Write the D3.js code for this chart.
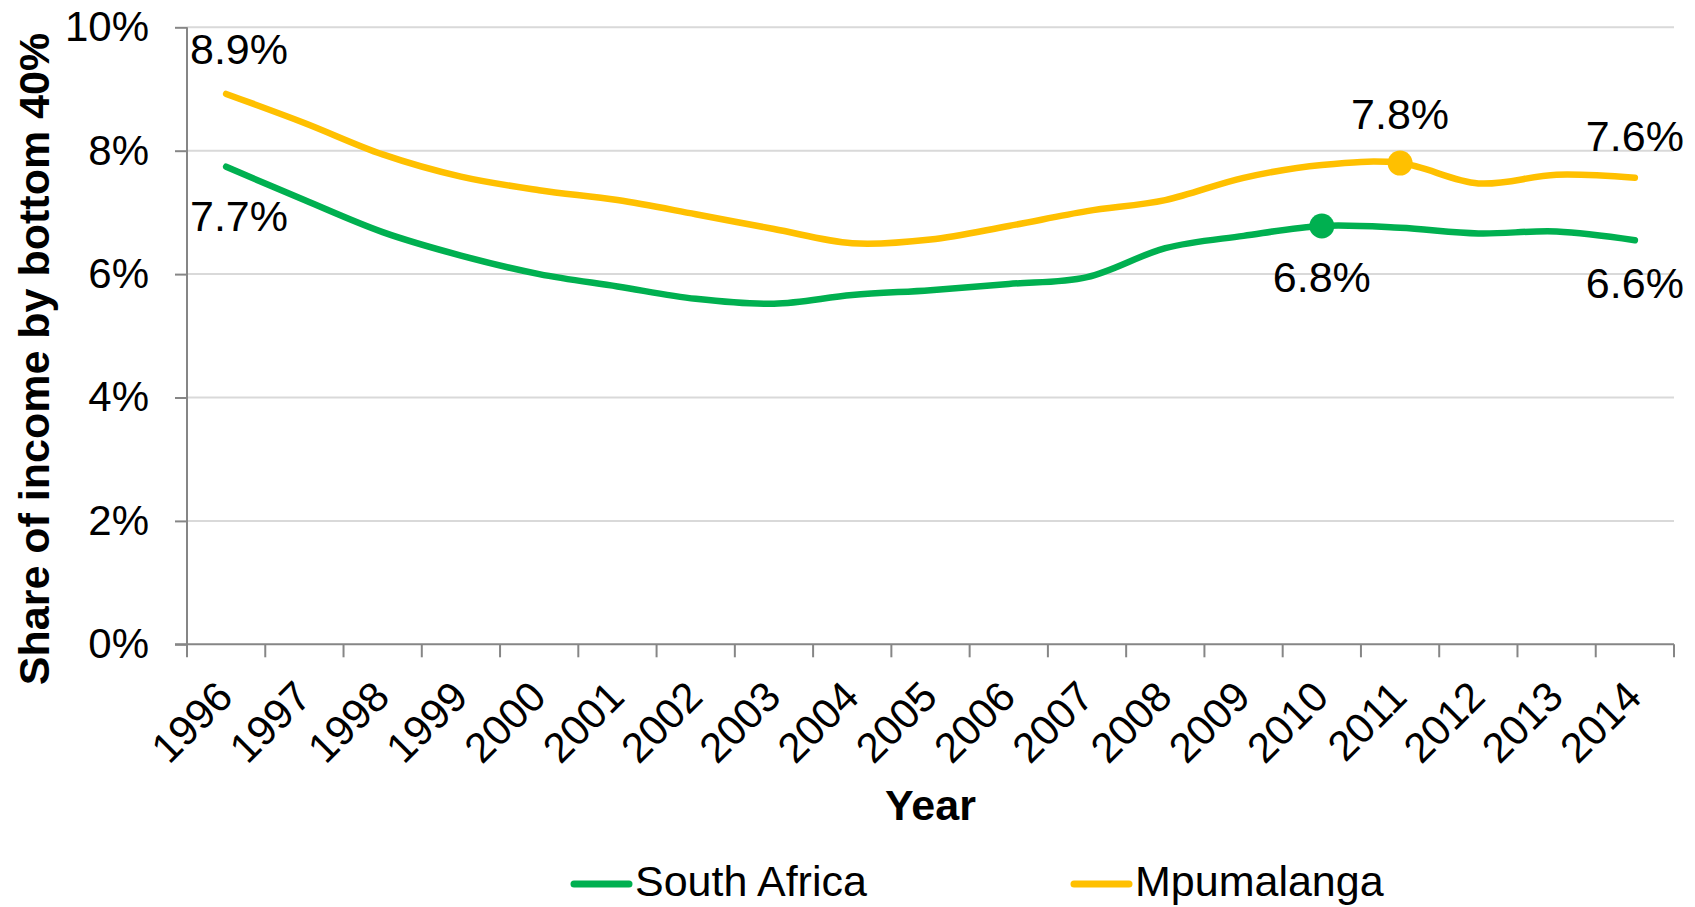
<!DOCTYPE html>
<html><head><meta charset="utf-8">
<script src="https://cdnjs.cloudflare.com/ajax/libs/d3/7.8.5/d3.min.js"></script>
<style>
html,body{margin:0;padding:0;background:#fff;}
text{font-family:"Liberation Sans",Arial,sans-serif;fill:#000;}
</style></head>
<body>
<svg id="chart" width="1695" height="907"></svg>
<script>
const years = ["1996","1997","1998","1999","2000","2001","2002","2003","2004","2005","2006","2007","2008","2009","2010","2011","2012","2013","2014"];
const southAfrica = [7.74,7.2,6.68,6.3,6.0,5.8,5.6,5.52,5.66,5.74,5.84,5.95,6.42,6.62,6.78,6.75,6.66,6.69,6.55];
const mpumalanga = [8.92,8.45,7.94,7.58,7.36,7.2,6.97,6.73,6.5,6.56,6.78,7.02,7.2,7.56,7.77,7.8,7.47,7.61,7.56];
const yTicks = [0,2,4,6,8,10];
const seriesNames = ["South Africa","Mpumalanga"];
const colors = ["#00B050","#FFC000"];
// labels: [series index, year, text, position]
const dataLabels = [
  [1,"1996","8.9%","aboveLeft"],
  [0,"1996","7.7%","belowLeft"],
  [1,"2011","7.8%","above"],
  [0,"2010","6.8%","below"],
  [1,"2014","7.6%","above"],
  [0,"2014","6.6%","below"]
];
const markers = [[0,"2010"],[1,"2011"]];

const svg = d3.select("#chart");
const L = 187, R = 1674, T = 27.3, B = 644.3;
const x = d3.scaleBand().domain(years).range([L,R]);
const y = d3.scaleLinear().domain([0,10]).range([B,T]);
const cx = d => x(d) + x.bandwidth()/2;
const FS = 43, FT = 42;

// gridlines
svg.append("g").selectAll("line").data(yTicks.filter(v=>v>0)).join("line")
  .attr("x1",L).attr("x2",R).attr("y1",d=>y(d)).attr("y2",d=>y(d))
  .attr("stroke","#d9d9d9").attr("stroke-width",2);

// y axis
const yAxis = svg.append("g").attr("transform",`translate(${L},0)`)
  .call(d3.axisLeft(y).tickValues(yTicks).tickFormat(d=>d+"%").tickSize(12).tickPadding(26));
yAxis.select(".domain").attr("stroke","#868686").attr("stroke-width",2).attr("d",`M-0,${B}V${T}`);
yAxis.selectAll(".tick line").attr("stroke","#868686").attr("stroke-width",2);
yAxis.selectAll(".tick text").attr("font-size",FT).attr("font-family","Liberation Sans, Arial, sans-serif").attr("fill","#000");

// x axis
const xAxis = svg.append("g").attr("transform",`translate(0,${B})`)
  .call(d3.axisBottom(x).tickSize(0).tickFormat(""));
xAxis.select(".domain").attr("stroke","#868686").attr("stroke-width",2).attr("d",`M${L-12},0H${R}`);
xAxis.selectAll(".tick").remove();
const bounds = years.map(d=>x(d)).concat([R]);
xAxis.selectAll("line.tk").data(bounds).join("line").attr("class","tk")
  .attr("x1",d=>d).attr("x2",d=>d).attr("y1",0).attr("y2",13)
  .attr("stroke","#868686").attr("stroke-width",2);
svg.append("g").selectAll("text").data(years).join("text")
  .attr("transform",d=>`translate(${cx(d)+9},${B+55}) rotate(-45)`)
  .attr("text-anchor","end").attr("font-size",FT).text(d=>d);

// axis titles
svg.append("text").attr("x",(L+R)/2).attr("y",820).attr("text-anchor","middle")
  .attr("font-size",FS).attr("font-weight","bold").text("Year");
svg.append("text").attr("transform",`translate(49,359) rotate(-90)`).attr("text-anchor","middle")
  .attr("font-size",FS).attr("font-weight","bold").text("Share of income by bottom 40%");

// lines
const allSeries = [southAfrica, mpumalanga];
const line = d3.line().x((d,i)=>cx(years[i])).y(d=>y(d)).curve(d3.curveCatmullRom.alpha(0));
svg.append("g").selectAll("path").data(allSeries).join("path")
  .attr("d",d=>line(d)).attr("fill","none")
  .attr("stroke",(d,i)=>colors[i]).attr("stroke-width",6.5)
  .attr("stroke-linecap","round").attr("stroke-linejoin","round");

// markers
const hasMarker = (s,yr) => markers.some(m=>m[0]===s && m[1]===yr);
svg.append("g").selectAll("circle").data(markers).join("circle")
  .attr("cx",d=>cx(d[1])).attr("cy",d=>y(allSeries[d[0]][years.indexOf(d[1])]))
  .attr("r",12.5).attr("fill",d=>colors[d[0]]);

// data labels
svg.append("g").selectAll("text").data(dataLabels).join("text")
  .attr("x",d=> d[3].endsWith("Left") ? 190 : cx(d[1]))
  .attr("y",d=>{
    const v = allSeries[d[0]][years.indexOf(d[1])];
    const mk = hasMarker(d[0],d[1]);
    if(d[3]==="aboveLeft") return y(v)-30;
    if(d[3]==="belowLeft") return y(v)+64;
    if(d[3]==="above") return y(v)-(mk?34:27);
    return y(v)+(mk?66:58);
  })
  .attr("text-anchor",d=> d[3].endsWith("Left") ? "start" : "middle")
  .attr("font-size",FS).text(d=>d[2]);

// legend
const legX = [574,1074];
const lg = svg.append("g").selectAll("g").data(seriesNames).join("g");
lg.append("line").attr("x1",(d,i)=>legX[i]).attr("x2",(d,i)=>legX[i]+55)
  .attr("y1",884).attr("y2",884).attr("stroke",(d,i)=>colors[i]).attr("stroke-width",7).attr("stroke-linecap","round");
lg.append("text").attr("x",(d,i)=>legX[i]+61).attr("y",896).attr("font-size",FS).text(d=>d);
</script>
</body></html>
